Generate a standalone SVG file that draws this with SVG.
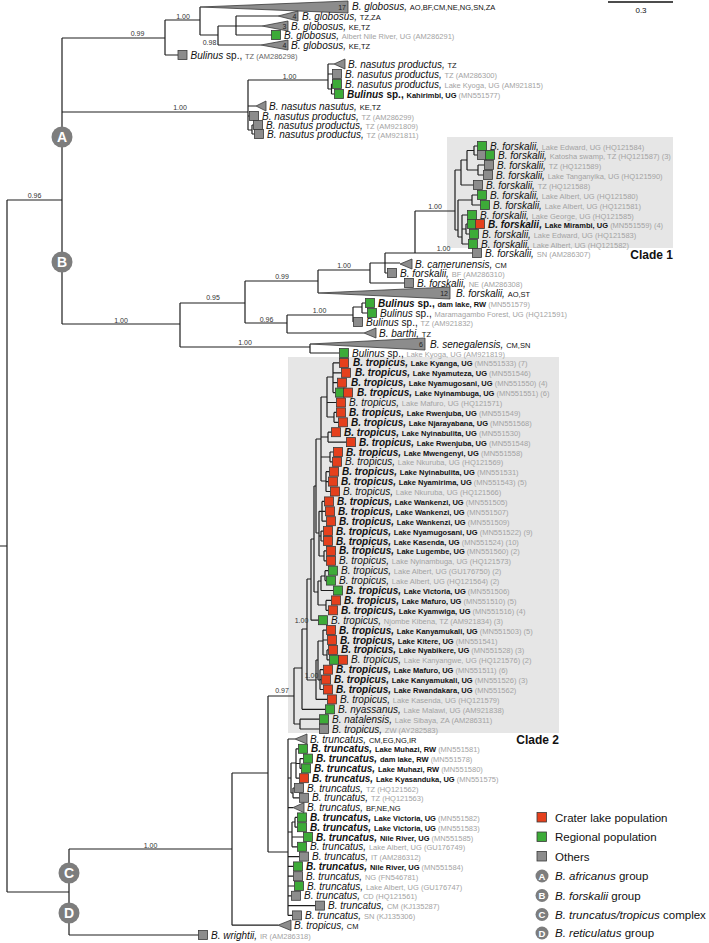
<svg xmlns="http://www.w3.org/2000/svg" width="709" height="943" viewBox="0 0 709 943">
<style>
text{font-family:"Liberation Sans",Arial,sans-serif;font-size:10px;fill:#111}
.i{font-style:italic}
.bi{font-style:italic;font-weight:bold}
.bo{font-weight:bold}
.g{font-size:7.5px;fill:#a3a3a3;font-style:normal;font-weight:normal}
.b{font-size:7.5px;font-weight:bold;fill:#111;font-style:normal}
.c{font-size:7.5px;fill:#111;font-style:normal;font-weight:normal}
.d{font-size:7.5px;fill:#666;font-style:normal}
.sup{font-size:7px;fill:#333;text-anchor:middle}
.n{font-size:7px;fill:#222;text-anchor:end}
.R{fill:#e5401d;stroke:#3a3a3a;stroke-width:.8}
.G{fill:#3dab38;stroke:#3a3a3a;stroke-width:.8}
.K{fill:#8c8c8c;stroke:#3a3a3a;stroke-width:.8}
.tri{fill:#8c8c8c;stroke:#3a3a3a;stroke-width:.8}
.br{fill:none;stroke:#1e1e1e;stroke-width:1.2}
.circ{fill:#7d7d7d}
.cl{fill:#fff;font-weight:bold;font-size:14px;text-anchor:middle}
.lcl{fill:#fff;font-weight:bold;font-size:9.5px;text-anchor:middle}
.leg{font-size:11.5px;fill:#111}
.clade{font-size:12px;font-weight:bold;fill:#111}
</style>
<rect id="clade1-bg" x="447" y="137" width="226" height="111" fill="#e6e6e6"/>
<rect id="clade2-bg" x="288" y="357" width="271" height="376" fill="#e6e6e6"/>
<g id="connectors" class="br">
<path d="M0 546H7M7 200V892M7 200H62M62 38V324M7 892H69M69 849V935
M62 38H165M165 20V55M165 20H200M165 55H178M200 7V35M200 35H218M218 26V45M218 26H262M236 16V35M236 16H278M236 35H271.5M218 45H261
M62 112H248M248 80V130M248 80H328M328 64V89M328 64H334M328 74H332.5M328 89H331.5M331.5 84V94M331.5 84H332.5M331.5 94H334.5M248 106H256M248 116H249.5M248 130H252M252 125V134M252 125H253.5M252 134H254.5
M62 324H180M180 303V347M180 303H245M245 281V323M245 281H318M318 270V293M318 270H370M370 263V283M370 263H400M385 253V273M385 253H472.5M415 211V253M415 211H455M385 273H387.5M370 283H404.5M245 323H287M287 315V333M287 315H353M353 307V322M353 307H362M362 303V313M362 303H365.5M362 313H367.5M353 322H353.5M287 333H364M180 347H310M310 344V353M310 353H339.5
M455 170V230M455 170H461M461 160V185M461 160H467M467 150.5V170M467 150.5H474M474 146V155M474 146H477.5M474 155H477.5M467 170H478M478 165V175M478 165H484.5M478 175H483.5M461 185H473.5M455 230H458M458 200V237M458 200H472M472 195V205M472 195H477.5M472 205H480.5M458 237H462M462 215V244M462 215H467.5M462 229H466M466 224V234M466 224H467.5M466 234H469.5M462 244H468.5
M69 849H232M232 773V925.2M232 773H268M268 696V852M268 696H294M294 668V724M294 724H300M300 719.2V729M300 719.2H319.5M300 729H319.5M294 668H302M302 629V709.3M302 709.3H325.5M302 629H307M307 579V680M307 680H316M316 660V699.4M316 699.4H327.5M316 660H318M318 641V680M318 641H323M323 630.1V655M323 630.1H326.5M323 640H327.5M323 655H327M327 649.9V659.8M327 649.9H328.5M327 659.8H329.5M318 680H320M320 669.7V689.5M320 669.7H323.5M320 679.6H321.5M320 689.5H323.5
M307 579H311M311 539V620.2M311 620.2H318.5M311 539H314M314 486V592M314 592H318M318 581V605M318 581H321M321 576V590.5M321 576H325M325 570.7V580.6M325 570.7H328.5M325 580.6H326.5M321 590.5H333.5M318 605H326M326 600.4V610.3M326 600.4H331.5M326 610.3H328.5
M314 486H316M316 439V533M316 533H319M319 511.3V556M319 511.3H322M322 501.4V521.2M322 501.4H324.5M322 511.3H325.5M322 521.2H326.5M319 536H321M321 531.1V541M321 531.1H323.5M321 541H323.5M319 556H324M324 550.9V560.8M324 550.9H326.5M324 560.8H326.5
M316 439H321M321 397V481M321 397H327M327 377V417M327 377H333M333 362.9V392.6M333 362.9H339.5M333 372.8H341.5M333 382.7H337.5M333 392.6H335.5M327 402.5H336.5M327 417H334M334 412.4V422.3M334 412.4H336.5M334 422.3H338.5M321 437H328M328 432.2V442.1M328 432.2H331.5M328 442.1H346.5M321 457H330M330 452V461.8M330 452H333.5M330 461.8H332.5M321 481H326M326 471.7V491.5M326 471.7H329.5M326 481.6H328.5M326 491.5H330.5
M268 852H288M288 739V915.4M288 739H295M288 778H291M291 763V793M291 763H296M296 748.8V778.2M296 748.8H298.5M296 763.5H300M300 758.6V768.4M300 758.6H303.5M300 768.4H301.5M296 778.2H299.5M291 793H293M293 788V797.8M293 788H294.5M293 797.8H299.5M288 807.6H293M288 832H292M292 822V846.8M292 822H295M295 817.4V827.2M295 817.4H297.5M295 827.2H297.5M292 837H303.5M292 846.8H297.5M288 856.6H299.5M288 866.4H293.5M288 876.2H293.5M288 886H294.5M288 895.8H291.5M288 905.6H315.5M288 915.4H292.5M232 925.2H278M69 935H198.5"/>
</g>
<g id="support-labels">
<text class="sup" x="137.5" y="35.5">0.99</text>
<text class="sup" x="183" y="19">1.00</text>
<text class="sup" x="209.5" y="44.5">0.98</text>
<text class="sup" x="289.5" y="78.5">1.00</text>
<text class="sup" x="180" y="109.5">1.00</text>
<text class="sup" x="34.5" y="197.5">0.96</text>
<text class="sup" x="121" y="322.5">1.00</text>
<text class="sup" x="213" y="300">0.95</text>
<text class="sup" x="282" y="279">0.99</text>
<text class="sup" x="344" y="267.5">1.00</text>
<text class="sup" x="266.5" y="321.5">0.96</text>
<text class="sup" x="319.5" y="313">1.00</text>
<text class="sup" x="245" y="345">1.00</text>
<text class="sup" x="435" y="209">1.00</text>
<text class="sup" x="443.5" y="250.5">1.00</text>
<text class="sup" x="301.5" y="623">1.00</text>
<text class="sup" x="311.5" y="678">1.00</text>
<text class="sup" x="282" y="692.5">0.97</text>
<text class="sup" x="150.5" y="847.5">1.00</text>
</g>
<g id="scale-bar"><path d="M608 2H673" stroke="#111" stroke-width="1.5"/><text x="641" y="12.5" text-anchor="middle" style="font-size:8px">0.3</text></g>
<g id="group-A"><circle class="circ" cx="62" cy="137" r="10.5"/><text class="cl" x="62" y="142">A</text></g>
<g id="group-B"><circle class="circ" cx="62" cy="262" r="10.5"/><text class="cl" x="62" y="267">B</text></g>
<g id="group-C"><circle class="circ" cx="69" cy="873" r="10.5"/><text class="cl" x="69" y="878">C</text></g>
<g id="group-D"><circle class="circ" cx="69" cy="913" r="10.5"/><text class="cl" x="69" y="918">D</text></g>

<g id="glob17"><polygon class="tri" points="200,7 348,1 348,13"/><text class="n" x="346" y="9.5">17</text><text x="352" y="9.5"><tspan class="i">B. globosus, </tspan><tspan class="c">AO,BF,CM,NE,NG,SN,ZA</tspan></text></g>
<g id="glob4a"><polygon class="tri" points="278,16 298,11 298,21"/><text class="n" x="296.5" y="19">4</text><text x="302" y="19.5"><tspan class="i">B. globosus, </tspan><tspan class="c">TZ,ZA</tspan></text></g>
<g id="glob3"><polygon class="tri" points="262,26 288,21 288,31"/><text class="n" x="286.5" y="29">3</text><text x="291" y="29.5"><tspan class="i">B. globosus, </tspan><tspan class="c">KE,TZ</tspan></text></g>
<g id="globUG"><rect class="G" x="271.5" y="30.5" width="9" height="9"/><text x="284" y="38.5"><tspan class="i">B. globosus, </tspan><tspan class="g">Albert Nile River, UG (AM286291)</tspan></text></g>
<g id="glob4b"><polygon class="tri" points="261,45 288,40 288,50"/><text class="n" x="286.5" y="48">4</text><text x="291" y="48.5"><tspan class="i">B. globosus, </tspan><tspan class="c">KE,TZ</tspan></text></g>
<g id="bulTZ"><rect class="K" x="178" y="50.5" width="9" height="9"/><text x="190.5" y="58.5"><tspan class="i">Bulinus</tspan> sp., <tspan class="d">TZ (AM286298)</tspan></text></g>
<g id="nasTZ"><polygon class="tri" points="334,64 345,59 345,69"/><text x="348" y="67.5"><tspan class="i">B. nasutus productus, </tspan><tspan class="c">TZ</tspan></text></g>
<g id="nas300"><rect class="K" x="332.5" y="69.5" width="9" height="9"/><text x="345" y="77.5"><tspan class="i">B. nasutus productus, </tspan><tspan class="g">TZ (AM286300)</tspan></text></g>
<g id="nas815"><rect class="G" x="332.5" y="79.5" width="9" height="9"/><text x="345" y="87.5"><tspan class="i">B. nasutus productus, </tspan><tspan class="g">Lake Kyoga, UG (AM921815)</tspan></text></g>
<g id="kahirimbi"><rect class="G" x="334.5" y="89.5" width="9" height="9"/><text x="347" y="97.5"><tspan class="bi">Bulinus</tspan><tspan class="bo"> sp., </tspan><tspan class="b">Kahirimbi, UG </tspan><tspan class="g">(MN551577)</tspan></text></g>
<g id="nasnas"><polygon class="tri" points="256,106 266,101 266,111"/><text x="269" y="109.5"><tspan class="i">B. nasutus nasutus, </tspan><tspan class="c">KE,TZ</tspan></text></g>
<g id="nas299"><rect class="K" x="249.5" y="111.5" width="9" height="9"/><text x="262" y="119.5"><tspan class="i">B. nasutus productus, </tspan><tspan class="g">TZ (AM286299)</tspan></text></g>
<g id="nas809"><rect class="K" x="253.5" y="120.5" width="9" height="9"/><text x="266" y="128.5"><tspan class="i">B. nasutus productus, </tspan><tspan class="g">TZ (AM921809)</tspan></text></g>
<g id="nas811"><rect class="K" x="254.5" y="129.5" width="9" height="9"/><text x="267" y="137.5"><tspan class="i">B. nasutus productus, </tspan><tspan class="g">TZ (AM921811)</tspan></text></g>

<g id="f584"><rect class="G" x="477.5" y="141.5" width="9" height="9"/><text x="490" y="149.5"><tspan class="i">B. forskalii, </tspan><tspan class="g">Lake Edward, UG (HQ121584)</tspan></text></g>
<g id="f587"><rect class="K" x="477.5" y="150.5" width="9" height="9"/><rect class="G" x="485.5" y="150.5" width="9" height="9"/><text x="498" y="158.5"><tspan class="i">B. forskalii, </tspan><tspan class="g">Katosha swamp, TZ (HQ121587) (3)</tspan></text></g>
<g id="f589"><rect class="K" x="484.5" y="160.5" width="9" height="9"/><text x="497" y="168.5"><tspan class="i">B. forskalii, </tspan><tspan class="g">TZ (HQ121589)</tspan></text></g>
<g id="f590"><rect class="K" x="483.5" y="170.5" width="9" height="9"/><text x="496" y="178.5"><tspan class="i">B. forskalii, </tspan><tspan class="g">Lake Tanganyika, UG (HQ121590)</tspan></text></g>
<g id="f588"><rect class="K" x="473.5" y="180.5" width="9" height="9"/><text x="486" y="188.5"><tspan class="i">B. forskalii, </tspan><tspan class="g">TZ (HQ121588)</tspan></text></g>
<g id="f580"><rect class="G" x="477.5" y="190.5" width="9" height="9"/><text x="490" y="198.5"><tspan class="i">B. forskalii, </tspan><tspan class="g">Lake Albert, UG (HQ121580)</tspan></text></g>
<g id="f581"><rect class="G" x="480.5" y="200.5" width="9" height="9"/><text x="493" y="208.5"><tspan class="i">B. forskalii, </tspan><tspan class="g">Lake Albert, UG (HQ121581)</tspan></text></g>
<g id="f585"><rect class="G" x="467.5" y="210.5" width="9" height="9"/><text x="480" y="218.5"><tspan class="i">B. forskalii, </tspan><tspan class="g">Lake George, UG (HQ121585)</tspan></text></g>
<g id="f559"><rect class="G" x="467.5" y="219.5" width="9" height="9"/><rect class="R" x="475.5" y="219.5" width="9" height="9"/><text x="488" y="227.5"><tspan class="bi">B. forskalii, </tspan><tspan class="b">Lake Mirambi, UG </tspan><tspan class="g">(MN551559) (4)</tspan></text></g>
<g id="f583"><rect class="G" x="469.5" y="229.5" width="9" height="9"/><text x="482" y="237.5"><tspan class="i">B. forskalii, </tspan><tspan class="g">Lake Edward, UG (HQ121583)</tspan></text></g>
<g id="f582"><rect class="G" x="468.5" y="239.5" width="9" height="9"/><text x="481" y="247.5"><tspan class="i">B. forskalii, </tspan><tspan class="g">Lake Albert, UG (HQ121582)</tspan></text></g>
<g id="f307"><rect class="K" x="472.5" y="248.5" width="9" height="9"/><text x="485" y="256.5"><tspan class="i">B. forskalii, </tspan><tspan class="g">SN (AM286307)</tspan></text></g>
<text class="clade" x="673" y="258.5" text-anchor="end">Clade 1</text>
<g id="camer"><polygon class="tri" points="400,264 412,259 412,269"/><text x="415" y="267.5"><tspan class="i">B. camerunensis, </tspan><tspan class="c">CM</tspan></text></g>
<g id="f310"><rect class="K" x="387.5" y="268.5" width="9" height="9"/><text x="400" y="276.5"><tspan class="i">B. forskalii, </tspan><tspan class="g">BF (AM286310)</tspan></text></g>
<g id="f308"><rect class="K" x="404.5" y="278.5" width="9" height="9"/><text x="417" y="286.5"><tspan class="i">B. forskalii, </tspan><tspan class="g">NE (AM286308)</tspan></text></g>
<g id="f12"><polygon class="tri" points="318,293 450,287 450,299"/><text class="n" x="448" y="296">12</text><text x="456" y="296.5"><tspan class="i">B. forskalii, </tspan><tspan class="c">AO,ST</tspan></text></g>
<g id="b579"><rect class="G" x="365.5" y="298.5" width="9" height="9"/><text x="378" y="306.5"><tspan class="bi">Bulinus</tspan><tspan class="bo"> sp., </tspan><tspan class="b">dam lake, RW </tspan><tspan class="g">(MN551579)</tspan></text></g>
<g id="b591"><rect class="G" x="367.5" y="308.5" width="9" height="9"/><text x="380" y="316.5"><tspan class="i">Bulinus</tspan> sp., <tspan class="g">Maramagambo Forest, UG (HQ121591)</tspan></text></g>
<g id="b832"><rect class="K" x="353.5" y="317.5" width="9" height="9"/><text x="366" y="325.5"><tspan class="i">Bulinus</tspan> sp., <tspan class="g">TZ (AM921832)</tspan></text></g>
<g id="barthi"><polygon class="tri" points="364,333 376,328 376,338"/><text x="379" y="336.5"><tspan class="i">B. barthi, </tspan><tspan class="c">TZ</tspan></text></g>
<g id="seneg"><polygon class="tri" points="310,344 425,338 425,350"/><text class="n" x="423" y="347">6</text><text x="430" y="347.5"><tspan class="i">B. senegalensis, </tspan><tspan class="c">CM,SN</tspan></text></g>
<g id="b819"><rect class="G" x="339.5" y="348.5" width="9" height="9"/><text x="352" y="356.5"><tspan class="i">Bulinus</tspan> sp., <tspan class="g">Lake Kyoga, UG (AM921819)</tspan></text></g>

<g id="t533"><rect class="R" x="339.5" y="358.4" width="9" height="9"/><text x="353" y="366.4"><tspan class="bi">B. tropicus, </tspan><tspan class="b">Lake Kyanga, UG </tspan><tspan class="g">(MN551533) (7)</tspan></text></g>
<g id="t546"><rect class="R" x="341.5" y="368.3" width="9" height="9"/><text x="355" y="376.3"><tspan class="bi">B. tropicus, </tspan><tspan class="b">Lake Nyamuteza, UG </tspan><tspan class="g">(MN551546)</tspan></text></g>
<g id="t550"><rect class="R" x="337.5" y="378.2" width="9" height="9"/><text x="351" y="386.2"><tspan class="bi">B. tropicus, </tspan><tspan class="b">Lake Nyamugosani, UG </tspan><tspan class="g">(MN551550) (4)</tspan></text></g>
<g id="t551"><rect class="G" x="335.5" y="388.1" width="9" height="9"/><rect class="R" x="343.5" y="388.1" width="9" height="9"/><text x="357" y="396.1"><tspan class="bi">B. tropicus, </tspan><tspan class="b">Lake Nyinambuga, UG </tspan><tspan class="g">(MN551551) (6)</tspan></text></g>
<g id="t571"><rect class="R" x="336.5" y="398" width="9" height="9"/><text x="349" y="406"><tspan class="i">B. tropicus, </tspan><tspan class="g">Lake Mafuro, UG (HQ121571)</tspan></text></g>
<g id="t549"><rect class="R" x="336.5" y="407.9" width="9" height="9"/><text x="349" y="415.9"><tspan class="bi">B. tropicus, </tspan><tspan class="b">Lake Rwenjuba, UG </tspan><tspan class="g">(MN551549)</tspan></text></g>
<g id="t568"><rect class="R" x="338.5" y="417.8" width="9" height="9"/><text x="351" y="425.8"><tspan class="bi">B. tropicus, </tspan><tspan class="b">Lake Njarayabana, UG </tspan><tspan class="g">(MN551568)</tspan></text></g>
<g id="t530"><rect class="R" x="331.5" y="427.7" width="9" height="9"/><text x="344" y="435.7"><tspan class="bi">B. tropicus, </tspan><tspan class="b">Lake Nyinabulita, UG </tspan><tspan class="g">(MN551530)</tspan></text></g>
<g id="t548"><rect class="R" x="346.5" y="437.6" width="9" height="9"/><text x="359" y="445.6"><tspan class="bi">B. tropicus, </tspan><tspan class="b">Lake Rwenjuba, UG </tspan><tspan class="g">(MN551548)</tspan></text></g>
<g id="t558"><rect class="R" x="333.5" y="447.5" width="9" height="9"/><text x="346" y="455.5"><tspan class="bi">B. tropicus, </tspan><tspan class="b">Lake Mwengenyi, UG </tspan><tspan class="g">(MN551558)</tspan></text></g>
<g id="t569"><rect class="R" x="332.5" y="457.3" width="9" height="9"/><text x="345" y="465.3"><tspan class="i">B. tropicus, </tspan><tspan class="g">Lake Nkuruba, UG (HQ121569)</tspan></text></g>
<g id="t531"><rect class="R" x="329.5" y="467.2" width="9" height="9"/><text x="342" y="475.2"><tspan class="bi">B. tropicus, </tspan><tspan class="b">Lake Nyinabulita, UG </tspan><tspan class="g">(MN551531)</tspan></text></g>
<g id="t543"><rect class="R" x="328.5" y="477.1" width="9" height="9"/><text x="341" y="485.1"><tspan class="bi">B. tropicus, </tspan><tspan class="b">Lake Nyamirima, UG </tspan><tspan class="g">(MN551543) (5)</tspan></text></g>
<g id="t566"><rect class="R" x="330.5" y="487" width="9" height="9"/><text x="343" y="495"><tspan class="i">B. tropicus, </tspan><tspan class="g">Lake Nkuruba, UG (HQ121566)</tspan></text></g>
<g id="t505"><rect class="R" x="324.5" y="496.9" width="9" height="9"/><text x="337" y="504.9"><tspan class="bi">B. tropicus, </tspan><tspan class="b">Lake Wankenzi, UG </tspan><tspan class="g">(MN551505)</tspan></text></g>
<g id="t507"><rect class="R" x="325.5" y="506.8" width="9" height="9"/><text x="338" y="514.8"><tspan class="bi">B. tropicus, </tspan><tspan class="b">Lake Wankenzi, UG </tspan><tspan class="g">(MN551507)</tspan></text></g>
<g id="t509"><rect class="R" x="326.5" y="516.7" width="9" height="9"/><text x="339" y="524.7"><tspan class="bi">B. tropicus, </tspan><tspan class="b">Lake Wankenzi, UG </tspan><tspan class="g">(MN551509)</tspan></text></g>
<g id="t522"><rect class="R" x="323.5" y="526.6" width="9" height="9"/><text x="336" y="534.6"><tspan class="bi">B. tropicus, </tspan><tspan class="b">Lake Nyamugosani, UG </tspan><tspan class="g">(MN551522) (9)</tspan></text></g>
<g id="t524"><rect class="R" x="323.5" y="536.5" width="9" height="9"/><text x="336" y="544.5"><tspan class="bi">B. tropicus, </tspan><tspan class="b">Lake Kasenda, UG </tspan><tspan class="g">(MN551524) (10)</tspan></text></g>
<g id="t560"><rect class="R" x="326.5" y="546.4" width="9" height="9"/><text x="339" y="554.4"><tspan class="bi">B. tropicus, </tspan><tspan class="b">Lake Lugembe, UG </tspan><tspan class="g">(MN551560) (2)</tspan></text></g>
<g id="t573"><rect class="R" x="326.5" y="556.3" width="9" height="9"/><text x="339" y="564.3"><tspan class="i">B. tropicus, </tspan><tspan class="g">Lake Nyinambuga, UG (HQ121573)</tspan></text></g>
<g id="t750"><rect class="G" x="328.5" y="566.2" width="9" height="9"/><text x="341" y="574.2"><tspan class="i">B. tropicus, </tspan><tspan class="g">Lake Albert, UG (GU176750) (2)</tspan></text></g>
<g id="t564"><rect class="G" x="326.5" y="576.1" width="9" height="9"/><text x="339" y="584.1"><tspan class="i">B. tropicus, </tspan><tspan class="g">Lake Albert, UG (HQ121564) (2)</tspan></text></g>
<g id="t506"><rect class="G" x="333.5" y="586" width="9" height="9"/><text x="346" y="594"><tspan class="bi">B. tropicus, </tspan><tspan class="b">Lake Victoria, UG </tspan><tspan class="g">(MN551506)</tspan></text></g>
<g id="t510"><rect class="R" x="331.5" y="595.9" width="9" height="9"/><text x="344" y="603.9"><tspan class="bi">B. tropicus, </tspan><tspan class="b">Lake Mafuro, UG </tspan><tspan class="g">(MN551510) (5)</tspan></text></g>
<g id="t516"><rect class="R" x="328.5" y="605.8" width="9" height="9"/><text x="341" y="613.8"><tspan class="bi">B. tropicus, </tspan><tspan class="b">Lake Kyamwiga, UG </tspan><tspan class="g">(MN551516) (4)</tspan></text></g>
<g id="t834"><rect class="G" x="318.5" y="615.7" width="9" height="9"/><text x="331" y="623.7"><tspan class="i">B. tropicus, </tspan><tspan class="g">Njombe Kibena, TZ (AM921834) (3)</tspan></text></g>
<g id="t503"><rect class="R" x="326.5" y="625.6" width="9" height="9"/><text x="339" y="633.6"><tspan class="bi">B. tropicus, </tspan><tspan class="b">Lake Kanyamukali, UG </tspan><tspan class="g">(MN551503) (5)</tspan></text></g>
<g id="t541"><rect class="R" x="327.5" y="635.5" width="9" height="9"/><text x="340" y="643.5"><tspan class="bi">B. tropicus, </tspan><tspan class="b">Lake Kitere, UG </tspan><tspan class="g">(MN551541)</tspan></text></g>
<g id="t528"><rect class="R" x="328.5" y="645.4" width="9" height="9"/><text x="341" y="653.4"><tspan class="bi">B. tropicus, </tspan><tspan class="b">Lake Nyabikere, UG </tspan><tspan class="g">(MN551528) (3)</tspan></text></g>
<g id="t576"><rect class="G" x="329.5" y="655.3" width="9" height="9"/><rect class="R" x="338.5" y="655.3" width="9" height="9"/><text x="351" y="663.3"><tspan class="i">B. tropicus, </tspan><tspan class="g">Lake Kanyangwe, UG (HQ121576) (2)</tspan></text></g>
<g id="t511"><rect class="R" x="323.5" y="665.2" width="9" height="9"/><text x="336" y="673.2"><tspan class="bi">B. tropicus, </tspan><tspan class="b">Lake Mafuro, UG </tspan><tspan class="g">(MN551511) (6)</tspan></text></g>
<g id="t526"><rect class="R" x="321.5" y="675.1" width="9" height="9"/><text x="334" y="683.1"><tspan class="bi">B. tropicus, </tspan><tspan class="b">Lake Kanyamukali, UG </tspan><tspan class="g">(MN551526) (3)</tspan></text></g>
<g id="t562"><rect class="R" x="323.5" y="685" width="9" height="9"/><text x="336" y="693"><tspan class="bi">B. tropicus, </tspan><tspan class="b">Lake Rwandakara, UG </tspan><tspan class="g">(MN551562)</tspan></text></g>
<g id="t579"><rect class="R" x="327.5" y="694.9" width="9" height="9"/><text x="340" y="702.9"><tspan class="i">B. tropicus, </tspan><tspan class="g">Lake Kasenda, UG (HQ121579)</tspan></text></g>
<g id="nyass"><rect class="G" x="325.5" y="704.8" width="9" height="9"/><text x="338" y="712.8"><tspan class="i">B. nyassanus, </tspan><tspan class="g">Lake Malawi, UG (AM921838)</tspan></text></g>
<g id="natal"><rect class="G" x="319.5" y="714.7" width="9" height="9"/><text x="332" y="722.7"><tspan class="i">B. natalensis, </tspan><tspan class="g">Lake Sibaya, ZA (AM286311)</tspan></text></g>
<g id="tZW"><rect class="K" x="319.5" y="724.5" width="9" height="9"/><text x="332" y="732.5"><tspan class="i">B. tropicus, </tspan><tspan class="g">ZW (AY282583)</tspan></text></g>
<text class="clade" x="559" y="744" text-anchor="end">Clade 2</text>

<g id="trCM"><polygon class="tri" points="295,739 307,734 307,744"/><text x="310" y="742.5"><tspan class="i">B. truncatus, </tspan><tspan class="c">CM,EG,NG,IR</tspan></text></g>
<g id="tr581"><rect class="G" x="298.5" y="744.3" width="9" height="9"/><text x="311" y="752.3"><tspan class="bi">B. truncatus, </tspan><tspan class="b">Lake Muhazi, RW </tspan><tspan class="g">(MN551581)</tspan></text></g>
<g id="tr578"><rect class="G" x="303.5" y="754.1" width="9" height="9"/><text x="316" y="762.1"><tspan class="bi">B. truncatus, </tspan><tspan class="b">dam lake, RW </tspan><tspan class="g">(MN551578)</tspan></text></g>
<g id="tr580"><rect class="G" x="301.5" y="763.9" width="9" height="9"/><text x="314" y="771.9"><tspan class="bi">B. truncatus, </tspan><tspan class="b">Lake Muhazi, RW </tspan><tspan class="g">(MN551580)</tspan></text></g>
<g id="tr575"><rect class="R" x="299.5" y="773.7" width="9" height="9"/><text x="312" y="781.7"><tspan class="bi">B. truncatus, </tspan><tspan class="b">Lake Kyasanduka, UG </tspan><tspan class="g">(MN551575)</tspan></text></g>
<g id="tr562"><rect class="K" x="294.5" y="783.5" width="9" height="9"/><text x="307" y="791.5"><tspan class="i">B. truncatus, </tspan><tspan class="g">TZ (HQ121562)</tspan></text></g>
<g id="tr563"><rect class="K" x="299.5" y="793.3" width="9" height="9"/><text x="312" y="801.3"><tspan class="i">B. truncatus, </tspan><tspan class="g">TZ (HQ121563)</tspan></text></g>
<g id="trBF"><polygon class="tri" points="293,807.6 304,802.6 304,812.6"/><text x="307" y="811.1"><tspan class="i">B. truncatus, </tspan><tspan class="c">BF,NE,NG</tspan></text></g>
<g id="tr582"><rect class="G" x="297.5" y="812.9" width="9" height="9"/><text x="310" y="820.9"><tspan class="bi">B. truncatus, </tspan><tspan class="b">Lake Victoria, UG </tspan><tspan class="g">(MN551582)</tspan></text></g>
<g id="tr583"><rect class="G" x="297.5" y="822.7" width="9" height="9"/><text x="310" y="830.7"><tspan class="bi">B. truncatus, </tspan><tspan class="b">Lake Victoria, UG </tspan><tspan class="g">(MN551583)</tspan></text></g>
<g id="tr585"><rect class="G" x="303.5" y="832.5" width="9" height="9"/><text x="316" y="840.5"><tspan class="bi">B. truncatus, </tspan><tspan class="b">Nile River, UG </tspan><tspan class="g">(MN551585)</tspan></text></g>
<g id="tr749"><rect class="G" x="297.5" y="842.3" width="9" height="9"/><text x="310" y="850.3"><tspan class="i">B. truncatus, </tspan><tspan class="g">Lake Albert, UG (GU176749)</tspan></text></g>
<g id="tr312"><rect class="K" x="299.5" y="852.1" width="9" height="9"/><text x="312" y="860.1"><tspan class="i">B. truncatus, </tspan><tspan class="g">IT (AM286312)</tspan></text></g>
<g id="tr584"><rect class="G" x="293.5" y="861.9" width="9" height="9"/><text x="306" y="869.9"><tspan class="bi">B. truncatus, </tspan><tspan class="b">Nile River, UG </tspan><tspan class="g">(MN551584)</tspan></text></g>
<g id="tr781"><rect class="K" x="293.5" y="871.7" width="9" height="9"/><text x="306" y="879.7"><tspan class="i">B. truncatus, </tspan><tspan class="g">NG (FN546781)</tspan></text></g>
<g id="tr747"><rect class="G" x="294.5" y="881.5" width="9" height="9"/><text x="307" y="889.5"><tspan class="i">B. truncatus, </tspan><tspan class="g">Lake Albert, UG (GU176747)</tspan></text></g>
<g id="tr561"><rect class="K" x="291.5" y="891.3" width="9" height="9"/><text x="304" y="899.3"><tspan class="i">B. truncatus, </tspan><tspan class="g">CD (HQ121561)</tspan></text></g>
<g id="tr287"><rect class="K" x="315.5" y="901.1" width="9" height="9"/><text x="328" y="909.1"><tspan class="i">B. truncatus, </tspan><tspan class="g">CM (KJ135287)</tspan></text></g>
<g id="tr306"><rect class="K" x="292.5" y="910.9" width="9" height="9"/><text x="305" y="918.9"><tspan class="i">B. truncatus, </tspan><tspan class="g">SN (KJ135306)</tspan></text></g>
<g id="tropCM"><polygon class="tri" points="278,925.2 291,920 291,930.5"/><text x="294" y="928.7"><tspan class="i">B. tropicus, </tspan><tspan class="c">CM</tspan></text></g>
<g id="wright"><rect class="K" x="198.5" y="930.5" width="9" height="9"/><text x="211" y="938.5"><tspan class="i">B. wrightii, </tspan><tspan class="g">IR (AM286318)</tspan></text></g>

<g id="legend">
<rect class="R" x="537" y="812.5" width="9.5" height="9.5"/><text class="leg" x="555" y="821.5">Crater lake population</text>
<rect class="G" x="537" y="832" width="9.5" height="9.5"/><text class="leg" x="555" y="841">Regional population</text>
<rect class="K" x="537" y="851.5" width="9.5" height="9.5"/><text class="leg" x="555" y="860.5">Others</text>
<circle class="circ" cx="542" cy="876" r="6.5"/><text class="lcl" x="542" y="879.5">A</text><text class="leg" x="555" y="880"><tspan class="i">B. africanus</tspan> group</text>
<circle class="circ" cx="542" cy="895.5" r="6.5"/><text class="lcl" x="542" y="899">B</text><text class="leg" x="555" y="899.5"><tspan class="i">B. forskalii</tspan> group</text>
<circle class="circ" cx="542" cy="914.5" r="6.5"/><text class="lcl" x="542" y="918">C</text><text class="leg" x="555" y="918.5"><tspan class="i">B. truncatus/tropicus</tspan> complex</text>
<circle class="circ" cx="542" cy="933" r="6.5"/><text class="lcl" x="542" y="936.5">D</text><text class="leg" x="555" y="937"><tspan class="i">B. reticulatus</tspan> group</text>
</g>
</svg>
